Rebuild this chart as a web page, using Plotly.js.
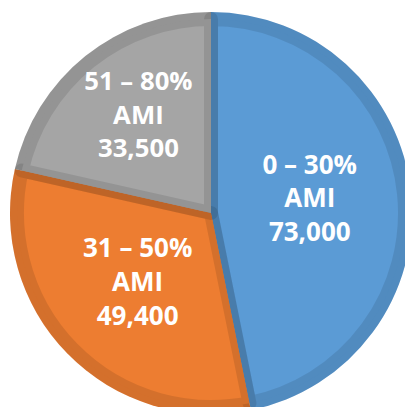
<!DOCTYPE html>
<html>
<head>
<meta charset="utf-8">
<script src="https://cdn.plot.ly/plotly-3.0.1.min.js"></script>
<style>
  html, body { margin: 0; padding: 0; width: 405px; height: 407px; overflow: hidden; background: #ffffff; }
  #chart { position: absolute; left: 10px; top: 12px; width: 402px; height: 402px; }
</style>
</head>
<body>
<div id="chart"></div>
<script>
const categories = ['0 – 30%', '31 – 50%', '51 – 80%'];
const suffix = 'AMI';
const values = [73000, 49400, 33500];
const fillColors = ['#5B9BD5', '#ED7D31', '#A5A5A5'];
const borderShade = 'rgba(0,0,0,0.1)';
const clear = ['rgba(0,0,0,0)', 'rgba(0,0,0,0)', 'rgba(0,0,0,0)'];

const W = 402, H = 402, inset = 7;
const textDx = 2, textDy = 6;

const common = {
  type: 'pie',
  labels: categories,
  values: values,
  sort: false,
  direction: 'clockwise',
  rotation: 0,
  hoverinfo: 'skip',
  showlegend: false
};

const baseTrace = Object.assign({}, common, {
  domain: {x: [0, 1], y: [0, 1]},
  marker: {colors: fillColors, line: {width: 0}},
  textinfo: 'none'
});

const borderTrace = Object.assign({}, common, {
  domain: {x: [inset / W, 1 - inset / W], y: [inset / H, 1 - inset / H]},
  marker: {colors: fillColors, line: {width: 2 * inset, color: borderShade}},
  textinfo: 'none'
});

const labelTrace = Object.assign({}, common, {
  domain: {x: [(inset + textDx) / W, 1 - (inset - textDx) / W],
           y: [(inset + textDy) / H, 1 - (inset - textDy) / H]},
  marker: {colors: clear, line: {width: 0}},
  texttemplate: '%{label}<br>' + suffix + '<br>%{value:,.0f}',
  textposition: 'inside',
  insidetextorientation: 'horizontal',
  insidetextfont: {family: 'Open Sans, sans-serif', size: 26, color: '#ffffff', weight: 'bold'}
});

Plotly.newPlot('chart', [baseTrace, borderTrace, labelTrace], {
  width: W,
  height: H,
  margin: {l: 0, r: 0, t: 0, b: 0, pad: 0},
  paper_bgcolor: 'rgba(0,0,0,0)',
  plot_bgcolor: 'rgba(0,0,0,0)',
  showlegend: false
}, {staticPlot: true});
</script>
</body>
</html>
